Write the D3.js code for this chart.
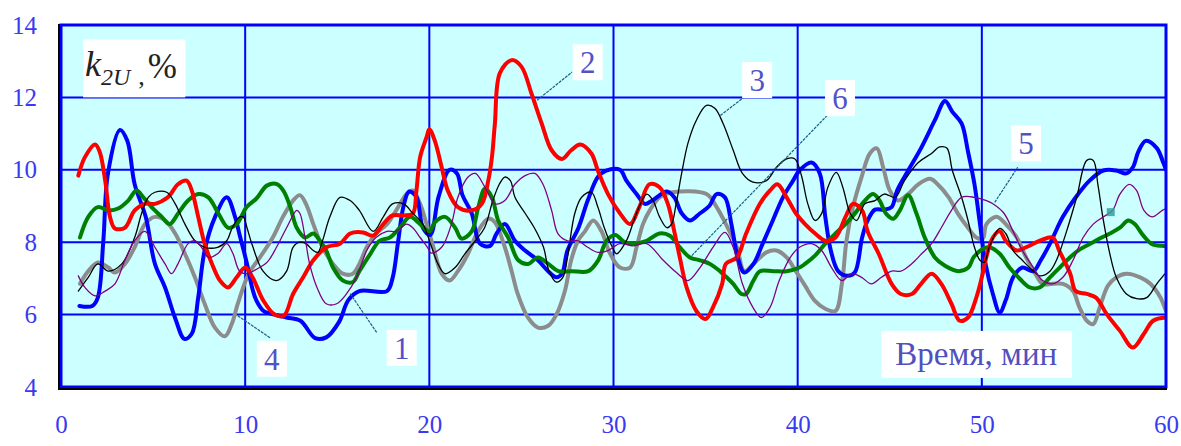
<!DOCTYPE html>
<html><head><meta charset="utf-8">
<script src="https://cdn.jsdelivr.net/npm/d3@7/dist/d3.min.js"></script>
<style>body{margin:0;background:#fff}svg{display:block}</style>
</head><body>
<svg id="c" width="1181" height="446"></svg>
<script>
// ---------- data (time, min ; k2U, %) ----------
const xTicks = [0, 10, 20, 30, 40, 50, 60];
const yTicks = [4, 6, 8, 10, 12, 14];
const seriesNames = ["1", "2", "3", "4", "5", "6"];

const series1 = [[1.0,6.24],[1.7,6.24],[2.0,6.47],[2.3,8.05],[2.55,9.9],[3.2,11.1],[3.6,10.8],[4.0,9.6],[4.6,8.7],[5.1,7.4],[5.65,6.75],[6.2,5.9],[6.7,5.33],[7.1,5.47],[7.45,6.47],[7.8,7.77],[8.35,8.68],[9.0,9.24],[9.45,8.7],[9.7,8.2],[10.1,7.4],[10.4,6.7],[10.6,6.4],[11.0,6.1],[11.6,6.0],[12.25,5.92],[13.0,5.83],[13.8,5.35],[14.4,5.37],[15.1,5.8],[15.6,6.4],[16.2,6.65],[17.7,6.65],[18.0,7.0],[18.3,8.0],[18.6,9.0],[18.9,9.4],[19.3,9.25],[19.65,8.4],[20.05,8.2],[20.5,9.25],[21.1,10.0],[21.5,9.9],[21.8,9.3],[22.3,8.8],[22.75,7.96],[23.3,7.9],[23.65,8.24],[24.1,8.5],[24.65,8.04],[25.2,7.77],[25.9,7.5],[26.45,7.2],[26.9,7.03],[27.2,7.13],[27.5,7.77],[28.1,8.4],[28.6,9.15],[29.15,9.8],[29.6,9.98],[30.35,10.0],[30.7,9.7],[31.25,9.33],[31.7,9.06],[32.1,9.15],[32.9,9.4],[33.3,9.24],[33.7,8.8],[34.15,8.6],[34.7,8.8],[35.2,9.0],[35.6,9.33],[36.05,9.24],[36.4,8.5],[36.75,7.57],[37.1,7.16],[37.6,7.4],[38.1,7.96],[38.65,8.6],[39.2,9.24],[39.75,9.7],[40.1,9.98],[40.75,10.2],[41.2,9.9],[41.5,8.7],[41.8,7.77],[42.2,7.2],[42.7,7.07],[43.1,7.16],[43.5,8.13],[43.8,8.6],[44.2,8.9],[44.7,8.9],[45.1,8.97],[45.4,9.43],[46.0,9.98],[46.7,10.6],[47.45,11.37],[48.0,11.9],[48.4,11.6],[48.9,11.28],[49.25,10.5],[49.6,9.6],[49.9,8.5],[50.2,7.4],[50.6,6.57],[50.97,6.06],[51.3,6.4],[51.7,7.03],[52.2,7.3],[52.8,7.2],[53.2,7.5],[53.7,7.96],[54.4,8.7],[55.1,9.24],[55.85,9.7],[56.6,9.98],[57.3,9.98],[57.85,9.9],[58.2,10.07],[58.5,10.5],[58.9,10.8],[59.5,10.6],[59.85,10.2],[60.0,10.0]];

const series2 = [[0.94,9.84],[1.3,10.35],[1.85,10.7],[2.1,10.5],[2.4,9.7],[2.66,8.7],[2.93,8.38],[3.47,8.4],[4.0,8.88],[4.56,9.06],[5.1,9.06],[5.8,9.24],[6.35,9.6],[6.82,9.7],[7.1,9.43],[7.45,8.7],[7.8,7.96],[8.2,7.4],[8.63,6.94],[9.07,6.75],[9.54,7.03],[10.0,7.3],[10.4,7.03],[10.97,6.4],[11.6,6.0],[12.1,5.97],[12.6,6.57],[13.15,7.03],[13.7,7.5],[14.4,7.86],[15.15,7.96],[15.7,8.24],[16.4,8.27],[16.95,8.18],[17.5,8.5],[18.0,8.74],[18.6,8.74],[19.1,8.79],[19.3,9.43],[19.5,10.35],[19.85,10.9],[20.0,11.12],[20.3,10.8],[20.67,10.07],[21.0,9.43],[21.55,8.97],[22.3,8.88],[22.85,9.06],[23.2,9.7],[23.4,10.35],[23.56,11.28],[23.83,12.67],[24.47,13.03],[25.0,12.85],[25.55,12.1],[26.1,11.28],[26.64,10.54],[27.2,10.3],[27.7,10.54],[28.2,10.7],[28.8,10.45],[29.15,9.98],[29.7,9.33],[30.35,8.8],[30.9,8.5],[31.4,8.97],[31.95,9.6],[32.5,9.52],[32.95,9.06],[33.3,8.3],[33.6,7.58],[33.97,6.75],[34.5,6.1],[35.0,5.88],[35.4,6.2],[35.9,6.85],[36.1,7.4],[36.7,7.58],[37.2,8.24],[37.95,9.06],[38.5,9.43],[38.9,9.6],[39.4,9.24],[39.9,8.8],[40.4,8.5],[40.95,8.24],[41.5,8.04],[42.05,8.13],[42.6,8.7],[43.0,9.06],[43.5,8.88],[43.8,8.3],[44.4,7.68],[45.1,6.85],[45.6,6.57],[46.2,6.57],[46.7,6.85],[47.27,7.13],[47.8,6.85],[48.35,6.3],[48.8,5.83],[49.25,5.92],[49.7,6.47],[50.0,7.03],[50.25,7.6],[50.6,8.13],[50.97,8.3],[51.3,8.04],[51.9,7.77],[52.4,7.86],[53.15,8.04],[53.85,8.13],[54.2,7.77],[54.8,7.13],[55.1,6.65],[55.7,6.57],[56.2,6.47],[56.8,6.0],[57.5,5.55],[58.2,5.09],[58.8,5.47],[59.3,5.83],[60.0,5.92]];

const series3 = [[0.94,6.65],[1.48,7.03],[2.0,7.4],[2.57,7.2],[3.3,7.4],[4.0,8.13],[4.38,8.8],[4.74,9.24],[5.1,9.38],[5.74,9.38],[6.2,9.06],[6.73,8.5],[7.27,8.04],[7.8,7.86],[8.5,7.86],[9.0,8.04],[9.3,8.4],[9.7,8.7],[9.9,8.7],[10.1,8.4],[10.4,7.9],[10.97,7.2],[11.7,6.94],[12.25,7.2],[12.6,7.86],[12.97,8.0],[13.3,7.96],[13.7,7.77],[13.95,7.72],[14.2,8.04],[14.6,8.7],[15.15,9.24],[15.7,9.15],[16.2,8.88],[16.95,8.3],[17.5,8.7],[18.0,9.06],[18.6,9.06],[19.1,8.8],[19.65,8.5],[20.1,7.9],[20.47,7.4],[20.85,7.13],[21.4,7.3],[21.93,7.68],[22.5,8.04],[23.0,8.4],[23.45,9.15],[23.8,9.6],[24.1,9.8],[24.4,9.7],[24.65,9.24],[25.2,8.8],[25.7,8.4],[26.2,7.86],[26.5,7.2],[26.9,6.9],[27.25,7.03],[27.5,7.58],[27.9,8.8],[28.27,9.24],[28.8,9.38],[29.15,8.97],[29.5,8.4],[29.9,7.9],[30.17,7.68],[30.7,8.04],[31.25,8.8],[31.8,9.33],[32.15,9.15],[32.5,8.7],[32.9,8.4],[33.15,8.5],[33.4,9.06],[33.7,9.9],[34.04,10.73],[34.5,11.37],[35.05,11.78],[35.5,11.7],[35.95,11.28],[36.5,10.54],[37.0,9.9],[37.57,9.66],[38.3,9.7],[38.85,10.07],[39.4,10.3],[39.85,10.3],[40.2,9.85],[40.55,9.06],[40.94,8.6],[41.3,8.79],[41.64,9.52],[42.1,9.93],[42.45,9.52],[42.85,8.8],[43.2,8.6],[43.65,9.06],[44.2,9.15],[44.7,9.33],[45.3,9.24],[45.8,9.7],[46.55,10.2],[47.27,10.45],[47.7,10.63],[48.1,10.6],[48.4,9.98],[48.9,9.24],[49.25,8.6],[49.6,7.86],[49.9,7.5],[50.15,7.45],[50.4,7.86],[50.97,8.38],[51.3,8.24],[51.7,7.77],[52.2,7.5],[52.8,7.2],[53.15,7.07],[53.7,7.2],[54.05,7.5],[54.6,8.3],[55.15,9.24],[55.7,10.26],[56.05,10.26],[56.3,9.6],[56.6,8.6],[56.95,7.68],[57.3,7.03],[57.85,6.57],[58.4,6.44],[58.95,6.47],[59.5,6.85],[59.95,7.13]];

const series4 = [[1.03,6.85],[1.48,7.2],[2.0,7.44],[2.57,7.3],[2.93,7.16],[3.47,7.4],[4.0,7.86],[4.56,8.5],[5.1,8.7],[5.65,8.6],[6.2,8.24],[6.73,7.68],[7.27,7.03],[7.8,6.3],[8.36,5.64],[8.9,5.4],[9.27,5.74],[9.6,6.3],[10.08,7.0],[10.4,7.3],[10.8,7.58],[11.5,8.13],[12.05,8.7],[12.6,9.15],[12.97,9.3],[13.3,9.06],[13.7,8.5],[14.2,7.86],[14.77,7.4],[15.3,7.13],[15.85,7.13],[16.2,7.4],[16.6,7.86],[17.1,8.24],[17.7,8.5],[18.2,8.88],[18.77,9.33],[19.1,9.43],[19.5,9.06],[19.85,8.5],[20.2,7.9],[20.67,7.13],[21.1,6.94],[21.55,7.2],[22.1,7.68],[22.64,8.3],[23.2,8.65],[23.56,8.55],[24.1,7.86],[24.47,7.2],[24.8,6.57],[25.35,5.92],[25.9,5.64],[26.45,5.69],[26.9,6.0],[27.36,6.65],[27.7,7.5],[28.07,8.04],[28.45,8.3],[28.9,8.6],[29.35,8.3],[29.8,7.7],[30.35,7.3],[30.9,7.3],[31.25,7.86],[31.6,8.5],[31.97,8.88],[32.5,9.24],[33.2,9.38],[35.05,9.33],[35.6,8.97],[36.1,8.5],[36.7,7.86],[37.1,7.2],[37.6,7.4],[38.3,7.72],[38.85,7.77],[39.4,7.58],[39.9,7.2],[40.4,6.8],[40.94,6.38],[41.5,6.16],[42.05,6.1],[42.4,6.85],[42.65,8.04],[43.0,8.97],[43.47,9.8],[43.92,10.45],[44.3,10.59],[44.64,10.07],[45.0,9.43],[45.44,9.15],[46.0,9.33],[46.55,9.6],[47.2,9.75],[47.6,9.6],[48.2,9.24],[48.7,8.79],[49.25,8.4],[49.7,8.13],[50.05,8.1],[50.25,8.5],[50.8,8.7],[51.3,8.5],[51.9,8.13],[52.4,7.58],[52.9,7.13],[53.3,6.85],[53.85,6.85],[54.4,6.85],[54.95,6.65],[55.3,6.2],[55.7,5.83],[56.05,5.74],[56.4,6.2],[56.85,6.8],[57.3,7.03],[57.85,7.13],[58.6,7.03],[59.15,6.85],[59.7,6.47],[60.0,6.1]];

const series5 = [[0.94,7.07],[1.3,6.75],[1.85,6.52],[2.4,6.65],[2.93,6.85],[3.47,7.5],[4.0,8.04],[4.56,8.3],[5.1,7.86],[5.65,7.4],[6.0,7.13],[6.35,7.4],[6.9,7.96],[7.27,8.04],[7.63,7.86],[8.0,7.58],[8.5,7.68],[9.0,7.96],[9.34,7.68],[9.7,7.2],[10.1,7.13],[10.6,7.25],[11.2,7.45],[11.7,7.86],[12.25,8.4],[12.8,8.88],[12.97,8.8],[13.25,8.13],[13.5,7.4],[13.9,6.75],[14.4,6.3],[14.97,6.3],[15.5,6.57],[16.05,7.03],[16.6,7.77],[17.1,8.13],[17.7,8.3],[18.2,8.3],[18.77,8.5],[19.1,8.4],[19.5,8.13],[19.9,7.86],[20.1,7.7],[20.67,7.86],[21.2,8.5],[21.55,9.24],[22.1,9.8],[22.5,9.9],[23.02,9.52],[23.56,9.06],[24.1,9.15],[24.65,9.6],[25.2,9.84],[25.73,9.9],[26.17,9.6],[26.64,8.88],[26.98,8.24],[27.5,8.04],[28.07,8.04],[28.6,7.86],[29.15,7.72],[29.7,7.77],[30.35,7.96],[31.05,7.9],[31.8,7.96],[32.7,7.5],[33.42,7.16],[34.04,6.94],[34.7,7.3],[35.4,7.86],[36.05,8.27],[36.5,7.86],[37.0,6.85],[37.57,6.2],[38.03,5.92],[38.5,6.2],[39.0,6.94],[39.6,7.58],[40.1,7.86],[40.75,7.96],[41.3,7.77],[41.84,7.3],[42.4,6.94],[42.93,7.13],[43.47,7.03],[44.0,6.85],[44.55,7.03],[45.1,7.2],[45.6,7.2],[46.18,7.4],[46.73,7.68],[47.27,7.96],[47.8,8.4],[48.35,8.88],[48.9,9.24],[49.6,9.24],[50.25,9.15],[50.6,9.06],[51.2,8.8],[51.7,8.3],[52.2,7.77],[52.8,7.3],[53.3,6.94],[53.85,6.85],[54.4,7.03],[54.95,7.5],[55.5,8.13],[56.05,8.5],[56.6,8.7],[57.1,8.88],[57.5,9.33],[58.0,9.6],[58.4,9.43],[58.8,8.88],[59.25,8.7],[59.8,8.88],[60.0,8.93]];

const series6 = [[1.03,8.13],[1.48,8.7],[2.0,8.97],[2.57,8.88],[3.1,8.93],[3.65,9.15],[4.1,9.43],[4.47,9.24],[4.92,8.97],[5.47,8.7],[5.9,8.5],[6.37,8.8],[6.9,9.15],[7.45,9.33],[8.0,9.24],[8.54,8.8],[9.08,8.4],[9.54,8.5],[10.08,8.97],[10.6,9.2],[11.2,9.57],[11.75,9.6],[12.1,9.4],[12.45,8.97],[12.8,8.4],[13.25,8.13],[13.7,8.24],[14.06,8.04],[14.4,7.77],[14.77,7.3],[15.3,6.94],[15.85,6.9],[16.2,7.2],[16.8,7.68],[17.3,8.04],[17.86,8.13],[18.4,8.4],[18.95,8.7],[19.5,8.5],[20.0,8.3],[20.3,8.55],[20.85,8.7],[21.4,8.4],[21.75,8.1],[22.3,8.3],[22.66,8.97],[23.02,9.48],[23.4,9.24],[23.74,8.6],[24.28,8.13],[24.83,7.5],[25.37,7.4],[25.9,7.58],[26.46,7.4],[27.0,7.2],[27.72,7.2],[28.63,7.2],[29.17,7.5],[29.62,8.04],[30.1,8.2],[30.6,8.0],[31.07,7.96],[31.8,8.04],[32.5,8.24],[33.06,8.18],[33.6,7.86],[34.15,7.58],[34.7,7.5],[35.24,7.4],[35.78,7.2],[36.14,7.03],[36.5,6.85],[36.95,6.57],[37.2,6.57],[37.6,6.94],[37.95,7.2],[38.67,7.2],[39.4,7.2],[40.1,7.3],[40.4,7.4],[40.94,7.63],[41.5,7.96],[42.05,8.24],[42.6,8.5],[43.1,8.79],[43.65,9.15],[44.1,9.33],[44.45,9.15],[44.8,8.79],[45.2,8.65],[45.55,8.88],[46.0,9.3],[46.45,8.79],[46.9,8.13],[47.45,7.58],[48.0,7.35],[48.73,7.2],[49.27,7.3],[49.55,7.58],[50.0,7.8],[50.4,7.86],[50.97,7.68],[51.5,7.3],[52.06,6.99],[52.6,6.75],[53.15,6.75],[53.7,7.03],[54.23,7.3],[54.78,7.58],[55.32,7.8],[55.86,7.95],[56.4,8.1],[56.95,8.24],[57.5,8.4],[57.95,8.6],[58.3,8.5],[58.77,8.18],[59.23,7.95],[59.77,7.9],[60.0,7.9]];

const markerPoint = [57.0, 8.83];

// label annotations: [text, labelT, labelV, leaderFromT, leaderFromV, leaderToT, leaderToV]
const curveLabels = [
  ["1", 18.5, 5.08, 15.7, 6.58, 17.15, 5.5],
  ["2", 28.6, 12.97, 25.85, 11.92, 27.75, 12.7],
  ["3", 37.8, 12.48, 35.8, 11.5, 37.2, 12.05],
  ["6", 42.3, 11.98, 34.25, 7.63, 41.6, 11.5],
  ["5", 52.4, 10.73, 50.7, 9.1, 51.95, 10.07],
  ["4", 11.45, 4.78, 9.6, 5.97, 11.35, 5.36]
];
const xTitle = "Время, мин";

// ---------- drawing ----------
const svg = d3.select("#c");
const x = d3.scaleLinear().domain([0, 60]).range([61, 1166]);
const y = d3.scaleLinear().domain([4, 14]).range([387, 25]);
const serif = "'Liberation Serif','Times New Roman',serif";

svg.append("rect").attr("width",1181).attr("height",446).attr("fill","#fff");
svg.append("rect").attr("x",x(0)).attr("y",y(14)).attr("width",x(60)-x(0)).attr("height",y(4)-y(14)).attr("fill","#ccffff");

// grid
svg.append("g").selectAll("line").data(xTicks.slice(1,-1)).join("line")
  .attr("x1",d=>x(d)).attr("x2",d=>x(d)).attr("y1",y(14)).attr("y2",y(4))
  .attr("stroke","#0000ff").attr("stroke-width",2);
svg.append("g").selectAll("line").data(yTicks.slice(1,-1)).join("line")
  .attr("y1",d=>y(d)).attr("y2",d=>y(d)).attr("x1",x(0)).attr("x2",x(60))
  .attr("stroke","#0000ff").attr("stroke-width",2);

// series
svg.append("defs").append("clipPath").attr("id","clip").append("rect")
  .attr("x",x(0)).attr("y",y(14)).attr("width",x(60)-x(0)).attr("height",y(4)-y(14));
const line = d3.line().x(d=>x(d[0])).y(d=>y(d[1])).curve(d3.curveCatmullRom.alpha(0.5));
const styles = [
  {data: series4, color:"#8c8c8c", w:4},
  {data: series1, color:"#0000ff", w:4},
  {data: series6, color:"#008000", w:4},
  {data: series2, color:"#ff0000", w:4},
  {data: series3, color:"#000000", w:1.3},
  {data: series5, color:"#800080", w:1.3}
];
const gl = svg.append("g").attr("clip-path","url(#clip)");
styles.forEach(s => {
  gl.append("path").datum(s.data).attr("d",line).attr("fill","none")
    .attr("stroke",s.color).attr("stroke-width",s.w).attr("stroke-linejoin","round").attr("stroke-linecap","round");
});
gl.append("rect").attr("x",x(markerPoint[0])-4).attr("y",y(markerPoint[1])-4).attr("width",8).attr("height",8)
  .attr("fill","#33a0a0").attr("opacity",0.85);

// frame
svg.append("rect").attr("x",x(0)).attr("y",y(14)).attr("width",x(60)-x(0)).attr("height",y(4)-y(14))
  .attr("fill","none").attr("stroke","#0000ff").attr("stroke-width",3);
svg.append("path").attr("d",`M${x(0)-2},${y(14)-1}V${y(4)+2}H${x(60)+1}`)
  .attr("fill","none").attr("stroke","#000").attr("stroke-width",2);

// axes labels
const xAxis = d3.axisBottom(x).tickValues(xTicks).tickSize(0).tickPadding(0);
const gx = svg.append("g").attr("transform",`translate(0,${y(4)+37})`).call(xAxis);
gx.select(".domain").remove();
gx.selectAll("text").attr("font-family",serif).attr("font-size",25).attr("fill","#3a3af0").attr("dy","0.35em");
const yAxis = d3.axisLeft(y).tickValues(yTicks).tickSize(0).tickPadding(0);
const gy = svg.append("g").attr("transform",`translate(37,0)`).call(yAxis);
gy.select(".domain").remove();
gy.selectAll("text").attr("font-family",serif).attr("font-size",25).attr("fill","#3a3af0");

// curve labels
const lab = svg.append("g");
curveLabels.forEach(c => {
  lab.append("line").attr("x1",x(c[3])).attr("y1",y(c[4])).attr("x2",x(c[5])).attr("y2",y(c[6]))
    .attr("stroke","#1d5f80").attr("stroke-width",1.2).attr("stroke-dasharray","3,1");
  lab.append("rect").attr("x",x(c[1])-15).attr("y",y(c[2])-18).attr("width",30).attr("height",36).attr("fill","#fff");
  lab.append("text").attr("x",x(c[1])).attr("y",y(c[2])).attr("dy","0.35em").attr("text-anchor","middle")
    .attr("font-family",serif).attr("font-size",31).attr("fill","#5252c8").text(c[0]);
});

// x title
svg.append("rect").attr("x",x(44.55)).attr("y",y(5.55)).attr("width",x(54.9)-x(44.55)).attr("height",y(4.25)-y(5.55)).attr("fill","#fff");
svg.append("text").attr("x",x(49.7)).attr("y",y(4.92)).attr("dy","0.35em").attr("text-anchor","middle")
  .attr("font-family",serif).attr("font-size",33).attr("fill","#5050c0").text(xTitle);

// y title k2U ,%
svg.append("rect").attr("x",x(1.2)).attr("y",y(13.6)).attr("width",x(6.75)-x(1.2)).attr("height",y(12.0)-y(13.6)).attr("fill","#fff");
const yt = svg.append("text").attr("x",x(1.3)).attr("y",y(12.6)).attr("font-family",serif).attr("fill","#222");
yt.append("tspan").attr("font-style","italic").attr("font-size",36).text("k");
yt.append("tspan").attr("font-style","italic").attr("font-size",24).attr("dy",9).text("2U");
yt.append("tspan").attr("font-size",26).attr("dx",8).text(",");
yt.append("tspan").attr("font-size",35).attr("dx",3).attr("dy",-7).text("%");
</script>
</body></html>
